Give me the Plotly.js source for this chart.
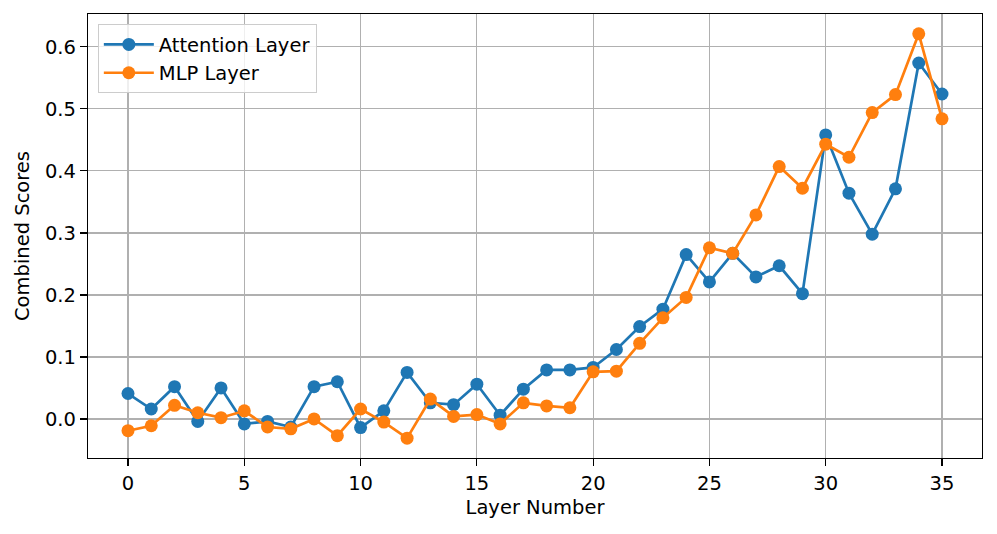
<!DOCTYPE html>
<html>
<head>
<meta charset="utf-8">
<script src="https://cdn.plot.ly/plotly-3.0.1.min.js"></script>
<style>body{margin:0;padding:0;background:#fff;}#chart{width:997px;height:534px;}</style>
</head>
<body>
<div id="chart"></div>
<script>
const layers = Array.from({length: 36}, (_, i) => i);
const attentionScores = [0.041, 0.016, 0.052, -0.004, 0.050, -0.008, -0.004, -0.013, 0.052, 0.060,
  -0.014, 0.013, 0.075, 0.026, 0.023, 0.056, 0.006, 0.048, 0.079, 0.079,
  0.083, 0.112, 0.149, 0.177, 0.265, 0.221, 0.267, 0.229, 0.247, 0.202,
  0.458, 0.364, 0.298, 0.371, 0.574, 0.524];
const mlpScores = [-0.019, -0.011, 0.022, 0.010, 0.002, 0.013, -0.013, -0.016, 0.000, -0.027,
  0.016, -0.005, -0.031, 0.032, 0.004, 0.007, -0.008, 0.026, 0.021, 0.018,
  0.076, 0.077, 0.122, 0.163, 0.196, 0.276, 0.267, 0.329, 0.407, 0.372,
  0.443, 0.422, 0.494, 0.523, 0.621, 0.484];
const xTicks = [0, 5, 10, 15, 20, 25, 30, 35];
const yTicks = [0.0, 0.1, 0.2, 0.3, 0.4, 0.5, 0.6];
const yTickLabels = ['0.0', '0.1', '0.2', '0.3', '0.4', '0.5', '0.6'];

const font = {family: 'DejaVu Sans', size: 19.5, color: '#000'};
const traces = [
  {x: layers, y: attentionScores, name: 'Attention Layer', type: 'scatter', mode: 'lines+markers',
   line: {color: '#1f77b4', width: 2.7}, marker: {color: '#1f77b4', size: 13}},
  {x: layers, y: mlpScores, name: 'MLP Layer', type: 'scatter', mode: 'lines+markers',
   line: {color: '#ff7f0e', width: 2.7}, marker: {color: '#ff7f0e', size: 13}}
];
const axisCommon = {showline: true, linecolor: '#000', linewidth: 1.2, mirror: true,
  ticks: 'outside', ticklen: 7, tickwidth: 1.2, tickcolor: '#000',
  showgrid: true, gridcolor: '#b0b0b0', gridwidth: 1.2, zeroline: false, tickfont: font};
const layout = {
  width: 997, height: 534,
  margin: {l: 88, r: 15, t: 14, b: 76},
  paper_bgcolor: '#fff', plot_bgcolor: '#fff',
  font: font,
  showlegend: true,
  legend: {x: 0.011, y: 0.977, xanchor: 'left', yanchor: 'top', bgcolor: 'rgba(255,255,255,0.8)',
    bordercolor: '#cccccc', borderwidth: 1, font: font, tracegroupgap: 0, itemwidth: 50},
  xaxis: Object.assign({}, axisCommon, {range: [-1.72, 36.72], tickvals: xTicks,
    ticktext: xTicks.map(String), title: {text: 'Layer Number', font: font, standoff: 6}}),
  yaxis: Object.assign({}, axisCommon, {range: [-0.063, 0.653], tickvals: yTicks,
    ticktext: yTickLabels, title: {text: 'Combined Scores', font: font, standoff: 10}})
};
Plotly.newPlot('chart', traces, layout, {displayModeBar: false, staticPlot: true});
</script>
</body>
</html>
